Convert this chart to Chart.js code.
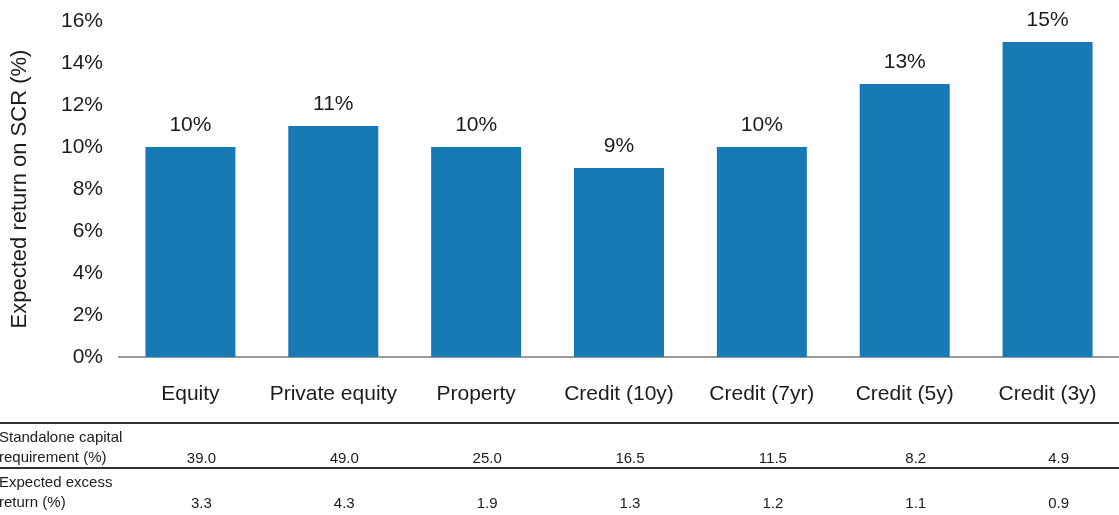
<!DOCTYPE html>
<html>
<head>
<meta charset="utf-8">
<script src="https://cdn.jsdelivr.net/npm/chart.js@4"></script>
<style>
  html, body { margin: 0; padding: 0; background: #fff; }
  #wrap { width: 1119px; height: 515px; position: relative; }
</style>
</head>
<body>
<div id="wrap"><canvas id="c"></canvas></div>
<script>
// Expected return on SCR by asset class, plus the two table rows under the axis.
const CATEGORIES = ["Equity", "Private equity", "Property", "Credit (10y)", "Credit (7yr)", "Credit (5y)", "Credit (3y)"];
const RETURN_ON_SCR = [10, 11, 10, 9, 10, 13, 15];
const Y_TICKS = [0, 2, 4, 6, 8, 10, 12, 14, 16];
const CAPITAL_REQ = ["39.0", "49.0", "25.0", "16.5", "11.5", "8.2", "4.9"];
const EXCESS_RETURN = ["3.3", "4.3", "1.9", "1.3", "1.2", "1.1", "0.9"];
const TABLE_ROWS = [
  { label: ["Standalone capital", "requirement (%)"], values: CAPITAL_REQ },
  { label: ["Expected excess", "return (%)"], values: EXCESS_RETURN },
];

const FONT = "'Liberation Sans', Arial, sans-serif";
const INK = "#1c1c1c";
const BAR = "#177AB4";

// value labels sitting on top of each bar
const barLabels = {
  id: "barLabels",
  afterDatasetsDraw(chart) {
    const ctx = chart.ctx;
    const meta = chart.getDatasetMeta(0);
    ctx.save();
    ctx.font = "21px " + FONT;
    ctx.fillStyle = INK;
    ctx.textAlign = "center";
    ctx.textBaseline = "alphabetic";
    meta.data.forEach((bar, i) => {
      ctx.fillText(RETURN_ON_SCR[i] + "%", bar.x, bar.y - 16);
    });
    ctx.restore();
  },
};

// the little table under the category axis
const dataTable = {
  id: "dataTable",
  afterDraw(chart) {
    const ctx = chart.ctx;
    const x = chart.scales.x;
    const W = chart.width;
    ctx.save();
    ctx.strokeStyle = "#333";
    ctx.lineWidth = 2;
    [423, 468].forEach((y) => {
      ctx.beginPath(); ctx.moveTo(0, y); ctx.lineTo(W, y); ctx.stroke();
    });
    ctx.font = "15px " + FONT;
    ctx.fillStyle = INK;
    ctx.textBaseline = "middle";
    TABLE_ROWS.forEach((row, r) => {
      const top = r === 0 ? 438 : 483;
      ctx.textAlign = "left";
      ctx.fillText(row.label[0], -1, top);
      ctx.fillText(row.label[1], -1, top + 20);
      ctx.textAlign = "center";
      row.values.forEach((v, i) => {
        ctx.fillText(v, x.getPixelForValue(i) + 11, top + 21);
      });
    });
    ctx.restore();
  },
};

new Chart(document.getElementById("c"), {
  type: "bar",
  data: {
    labels: CATEGORIES,
    datasets: [{
      data: RETURN_ON_SCR,
      backgroundColor: BAR,
      borderWidth: 0,
      categoryPercentage: 1,
      barPercentage: 0.63,
    }],
  },
  options: {
    responsive: true,
    maintainAspectRatio: false,
    animation: false,
    layout: { padding: { top: 21, right: 0, bottom: 108, left: 0 } },
    plugins: { legend: { display: false }, tooltip: { enabled: false } },
    scales: {
      x: {
        grid: { display: false, drawTicks: false },
        border: { display: true, color: "#9a9a9a", width: 2 },
        ticks: { color: INK, font: { family: FONT, size: 21 }, padding: 25, maxRotation: 0, autoSkip: false },
        afterFit: (s) => { s.height = 50; s.paddingLeft = 0; s.paddingRight = 0; },
      },
      y: {
        min: 0,
        max: 16,
        afterBuildTicks: (s) => { s.ticks = Y_TICKS.map((v) => ({ value: v })); },
        grid: { display: false, drawTicks: false },
        border: { display: false },
        ticks: { color: INK, font: { family: FONT, size: 21 }, padding: 16, callback: (v) => v + "%" },
        title: {
          display: true,
          text: "Expected return on SCR (%)",
          color: INK,
          font: { family: FONT, size: 22 },
          padding: { top: 7, bottom: 0 },
        },
        afterFit: (s) => { s.width = 119; s.paddingTop = 0; s.paddingBottom = 0; },
      },
    },
  },
  plugins: [barLabels, dataTable],
});
</script>
</body>
</html>
